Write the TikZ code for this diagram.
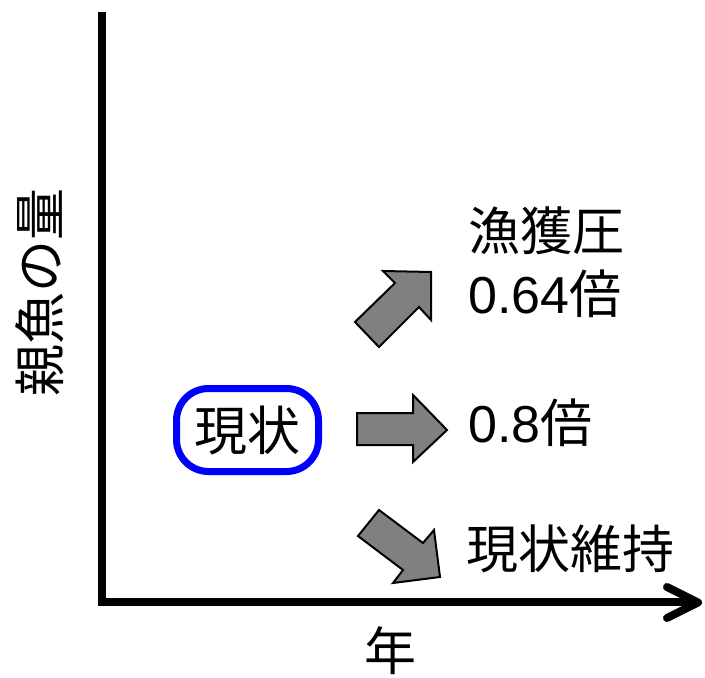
\documentclass[tikz,border=0pt]{standalone}
\usepackage{fontspec}
\setmainfont{Noto Sans CJK JP}
\newfontfamily\latinfont{Liberation Sans}
\begin{document}
\begin{tikzpicture}[x=1pt,y=-1pt,
  lbl/.style={inner sep=0pt,font=\fontsize{52}{56}\selectfont},
  fatarrow/.style={draw=black,line width=2pt,fill=gray,line join=miter},
  axisline/.style={line width=8pt}]
\useasboundingbox (0,0) rectangle (705,678);
% axes
\coordinate (top) at (102,12);
\coordinate (origin) at (102,602);
\coordinate (xend) at (697,602);
\draw[axisline] (top) -- (102,606);
\draw[axisline] (98,602) -- (xend);
\coordinate (arm1) at (667,587);
\coordinate (arm2) at (667,618);
\draw[axisline,line cap=round,line join=round] (arm1) -- (698,602.5) -- (arm2);
% axis labels
\node[lbl,rotate=90] (ylabel) at (40,292) {親魚の量};
\node[lbl] (xlabel) at (390,651) {年};
% current state box
\node[draw=blue,line width=7pt,rounded corners=32pt,minimum width=142pt,minimum height=83pt,inner sep=0pt,font=\fontsize{53}{56}\selectfont] (now) at (247.5,430) {現状};
% arrows
\draw[fatarrow] (355,322) -- (395,283) -- (383,271) -- (431,272) -- (431,320) -- (419,307) -- (379,347) -- cycle;
\draw[fatarrow] (357,413) -- (413,413) -- (413,395) -- (447,430) -- (413,462) -- (413,445) -- (357,445) -- cycle;
\draw[fatarrow] (358,536) -- (379,510) -- (423,543) -- (434,530) -- (440,577) -- (393,583) -- (403,570) -- cycle;
% labels
\node[lbl,anchor=west] (t1) at (468,231) {漁獲圧};
\node[lbl,anchor=west] (t2) at (468,294) {{\latinfont 0.64}倍};
\node[lbl,anchor=west] (t3) at (468,423) {{\latinfont 0.8}倍};
\node[lbl,anchor=west] (t4) at (466,549) {現状維持};
\end{tikzpicture}
\end{document}
